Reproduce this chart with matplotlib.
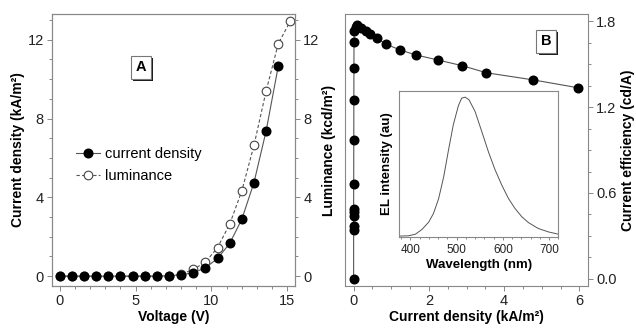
import matplotlib
matplotlib.use("Agg")
import matplotlib.pyplot as plt
import matplotlib.patheffects as pe
from matplotlib.ticker import MultipleLocator

plt.rcParams['font.family'] = ['Liberation Sans', 'DejaVu Sans']

# panel A: current density and luminance vs voltage
voltage = [0, 0.8, 1.6, 2.4, 3.2, 4.0, 4.8, 5.6, 6.4, 7.2, 8.0, 8.8, 9.6,
           10.4, 11.2, 12.0, 12.8, 13.6, 14.4]
current_density = [0, 0, 0, 0, 0, 0, 0, 0, 0, 0.02, 0.07, 0.17, 0.42,
                   0.9, 1.66, 2.89, 4.75, 7.37, 10.66]
lum_voltage = [0, 0.8, 1.6, 2.4, 3.2, 4.0, 4.8, 5.6, 6.4, 7.2, 8.0, 8.8, 9.6,
               10.4, 11.2, 12.0, 12.8, 13.6, 14.4, 15.2]
luminance = [0, 0, 0, 0, 0, 0, 0, 0, 0, 0.02, 0.1, 0.34, 0.71,
             1.45, 2.64, 4.33, 6.64, 9.4, 11.8, 12.95]

# panel B: current efficiency vs current density
cd_b = [0, 0, 0, 0, 0, 0, 0.002, 0.004, 0.006, 0.008, 0.01, 0.02, 0.05, 0.09,
        0.2, 0.33, 0.44, 0.62, 0.86, 1.23, 1.65, 2.23, 2.88, 3.53, 4.78, 5.97]
efficiency = [0.0, 0.34, 0.37, 0.44, 0.47, 0.49, 0.665, 0.97, 1.25, 1.47, 1.655,
              1.73, 1.76, 1.775, 1.755, 1.735, 1.71, 1.68, 1.64, 1.60, 1.565,
              1.53, 1.49, 1.44, 1.39, 1.335]

# inset: EL spectrum
wavelength = [376, 396, 411, 425, 439.5, 450, 461, 472, 482.5, 493, 504, 511,
              518.5, 527, 540, 554.5, 569, 583, 597.5, 612, 626, 641, 655,
              676.5, 698, 719.6]
el_intensity = [0.005, 0.007, 0.018, 0.05, 0.10, 0.16, 0.26, 0.41, 0.595,
                0.77, 0.90, 0.95, 0.957, 0.938, 0.858, 0.72, 0.58, 0.46,
                0.355, 0.263, 0.195, 0.137, 0.098, 0.057, 0.034, 0.018]

spine_c = '#888888'
line_c = '#555555'
tick_fs = 10.5
label_fs = 10


def style_axis(ax):
    for s in ax.spines.values():
        s.set_color(spine_c)
        s.set_linewidth(0.8)
    ax.tick_params(which='both', direction='out', color=spine_c, width=0.7,
                   labelsize=tick_fs, labelcolor='#222222')
    ax.tick_params(which='major', length=3.5, pad=2.5)
    ax.tick_params(which='minor', length=2)


def panel_label(ax, x, y, letter):
    t = ax.text(x, y, letter, transform=ax.transAxes, fontsize=10.5,
                fontweight='bold', ha='center', va='center',
                bbox=dict(boxstyle='square,pad=0.3', fc='white', ec='#777777', lw=0.8))
    t.get_bbox_patch().set_path_effects([
        pe.SimplePatchShadow(offset=(1.6, -1.6), shadow_rgbFace='black', alpha=0.9),
        pe.Normal()])


fig = plt.figure(figsize=(6.36, 3.28), dpi=100)

# ---- panel A ----
axA = fig.add_axes([0.0818, 0.128, 0.382, 0.829])
axA2 = axA.twinx()
style_axis(axA)
style_axis(axA2)
axA.plot(voltage, current_density, '-', color=line_c, lw=0.8, marker='o',
         ms=6.2, mfc='black', mec='black', label='current density', zorder=3)
axA2.plot(lum_voltage, luminance, '--', color=line_c, lw=0.8, dashes=(3, 2),
          marker='o', ms=6.2, mfc='white', mec='#444444', mew=0.8,
          label='luminance', zorder=2)
axA.set_zorder(axA2.get_zorder() + 1)
axA.patch.set_visible(False)
for a in (axA, axA2):
    a.set_xlim(-0.5, 15.5)
    a.set_ylim(-0.5, 13.3)
    a.yaxis.set_major_locator(MultipleLocator(4))
    a.yaxis.set_minor_locator(MultipleLocator(1))
axA.xaxis.set_major_locator(MultipleLocator(5))
axA.xaxis.set_minor_locator(MultipleLocator(1))
axA.tick_params(axis='x', which='both', top=False)
axA.set_xlabel('Voltage (V)', fontsize=label_fs, fontweight='bold', labelpad=1)
axA.set_ylabel('Current density (kA/m²)', fontsize=label_fs, fontweight='bold', labelpad=2)
axA2.set_ylabel('Luminance (kcd/m²)', fontsize=label_fs, fontweight='bold', labelpad=2)

h1, l1 = axA.get_legend_handles_labels()
h2, l2 = axA2.get_legend_handles_labels()
axA.legend(h1 + h2, l1 + l2, loc='center left', bbox_to_anchor=(0.1, 0.445),
           frameon=False, fontsize=10.5, handlelength=1.6, handletextpad=0.4,
           labelspacing=0.6, borderpad=0, borderaxespad=0)
panel_label(axA, 0.366, 0.805, 'A')

# ---- panel B ----
axB = fig.add_axes([0.543, 0.128, 0.381, 0.829])
style_axis(axB)
axB.plot(cd_b, efficiency, '-', color=line_c, lw=0.8, marker='o', ms=6.2,
         mfc='black', mec='black')
axB.set_xlim(-0.22, 6.22)
axB.set_ylim(-0.05, 1.85)
axB.xaxis.set_major_locator(MultipleLocator(2))
axB.xaxis.set_minor_locator(MultipleLocator(0.5))
axB.yaxis.set_major_locator(MultipleLocator(0.6))
axB.yaxis.set_minor_locator(MultipleLocator(0.15))
axB.yaxis.set_major_formatter(matplotlib.ticker.FormatStrFormatter('%.1f'))
axB.tick_params(axis='y', which='both', left=False, labelleft=False,
                right=True, labelright=True)
axB.tick_params(axis='x', which='both', top=False)
axB.yaxis.set_label_position('right')
axB.set_xlabel('Current density (kA/m²)', fontsize=label_fs, fontweight='bold', labelpad=1)
axB.set_ylabel('Current efficiency (cd/A)', fontsize=label_fs, fontweight='bold', labelpad=3)
panel_label(axB, 0.828, 0.9, 'B')

# ---- inset ----
axI = fig.add_axes([0.627, 0.278, 0.251, 0.445])
style_axis(axI)
axI.plot(wavelength, el_intensity, '-', color='#555555', lw=0.7)
axI.set_xlim(375, 720)
axI.set_ylim(0, 1.0)
axI.xaxis.set_major_locator(MultipleLocator(100))
axI.xaxis.set_minor_locator(MultipleLocator(20))
axI.tick_params(axis='y', which='both', left=False, labelleft=False)
axI.tick_params(axis='x', which='both', labelsize=8.5, top=False)
axI.tick_params(which='major', length=2.5)
axI.tick_params(which='minor', length=1.5)
axI.set_xlabel('Wavelength (nm)', fontsize=9.5, fontweight='bold', labelpad=2)
axI.set_ylabel('EL intensity (au)', fontsize=9.5, fontweight='bold', labelpad=4)

fig.savefig('out.png', dpi=100)
